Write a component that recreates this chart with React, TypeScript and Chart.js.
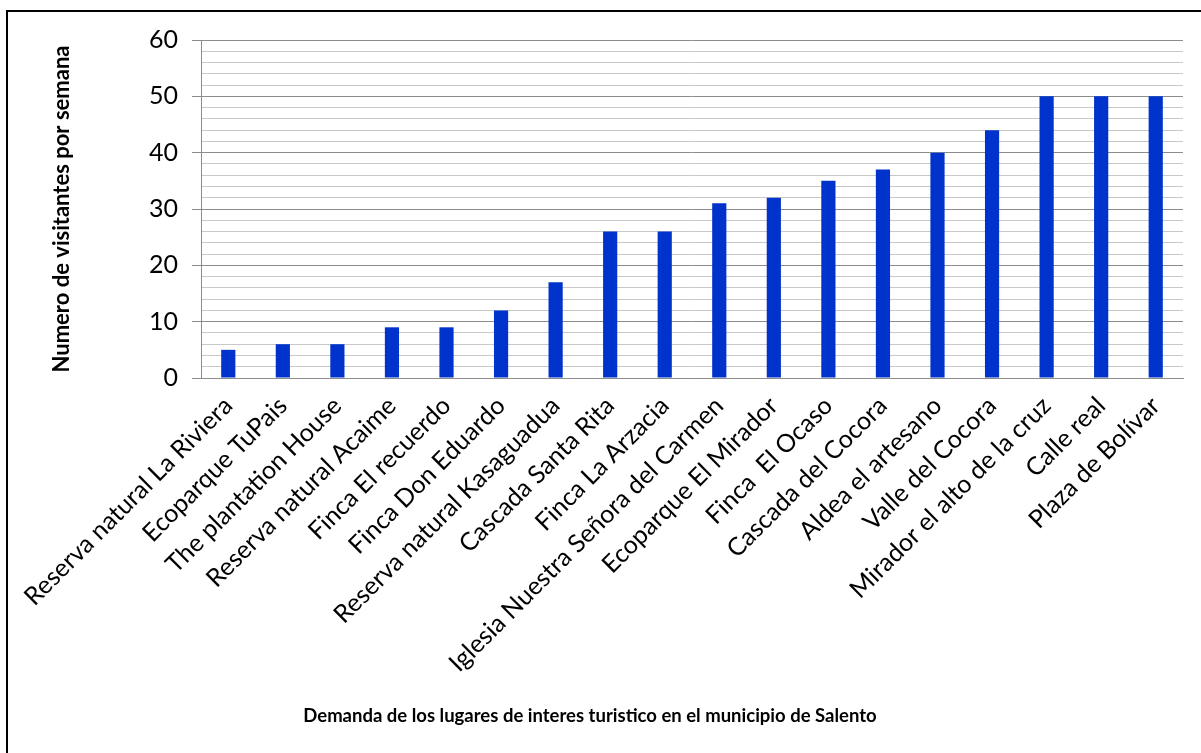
import React, { useEffect, useRef } from "react";
import { Chart, registerables } from "chart.js";

Chart.register(...registerables);

const categories: string[] = [
  "Reserva natural La Riviera",
  "Ecoparque TuPais",
  "The plantation House",
  "Reserva natural Acaime",
  "Finca El recuerdo",
  "Finca Don Eduardo",
  "Reserva natural Kasaguadua",
  "Cascada Santa Rita",
  "Finca La Arzacia",
  "Iglesia Nuestra Señora del Carmen",
  "Ecoparque El Mirador",
  "Finca  El Ocaso",
  "Cascada del Cocora",
  "Aldea el artesano",
  "Valle del Cocora",
  "Mirador el alto de la cruz",
  "Calle real",
  "Plaza de Bolívar",
];

const visitantes: number[] = [5, 6, 6, 9, 9, 12, 17, 26, 26, 31, 32, 35, 37, 40, 44, 50, 50, 50];

const yMin = 0;
const yMax = 60;
const yMajorStep = 10;
const yMinorStep = 2;

const xTitle = "Demanda de los lugares de interes turistico en el municipio de Salento";
const yTitle = "Numero de visitantes por semana";

const FONT = "Lato, 'Open Sans', sans-serif";

const framePlugin = {
  id: "frameAndTitles",
  beforeDraw(chart: any) {
    const ctx = chart.ctx;
    ctx.save();
    ctx.fillStyle = "#ffffff";
    ctx.fillRect(0, 0, chart.width, chart.height);
    ctx.strokeStyle = "#000000";
    ctx.lineWidth = 2;
    ctx.beginPath();
    ctx.moveTo(7, chart.height);
    ctx.lineTo(7, 11);
    ctx.lineTo(chart.width, 11);
    ctx.stroke();
    ctx.restore();
  },
  afterDraw(chart: any) {
    const ctx = chart.ctx;
    const area = chart.chartArea;
    ctx.save();
    ctx.fillStyle = "#000000";
    ctx.textAlign = "center";
    ctx.textBaseline = "middle";
    ctx.font = `bold 18.5px ${FONT}`;
    ctx.fillText(xTitle, 590, 716);
    ctx.font = `bold 22px ${FONT}`;
    ctx.translate(62, (area.top + area.bottom) / 2);
    ctx.rotate(-Math.PI / 2);
    ctx.fillText(yTitle, 0, 0);
    ctx.restore();
  },
};

export default function App() {
  const ref = useRef<HTMLCanvasElement | null>(null);

  useEffect(() => {
    document.body.style.margin = "0";
    if (!ref.current) return;
    const chart = new Chart(ref.current, {
      type: "bar",
      data: {
        labels: categories,
        datasets: [
          {
            data: visitantes,
            backgroundColor: "#0033cc",
            borderColor: "#3a5fd6",
            borderWidth: 0,
            categoryPercentage: 1,
            barPercentage: 0.26,
          },
        ],
      },
      options: {
        animation: false,
        responsive: false,
        devicePixelRatio: 1,
        layout: { padding: { left: 0, top: 40, right: 18, bottom: 0 } },
        plugins: {
          legend: { display: false },
          tooltip: { enabled: false },
        },
        scales: {
          x: {
            grid: { display: false },
            border: { display: true, color: "#8c8c8c", width: 1 },
            ticks: {
              autoSkip: false,
              maxRotation: 45,
              minRotation: 45,
              color: "#000000",
              padding: 5,
              font: { family: FONT, size: 25 },
            },
            afterFit(scale: any) {
              scale.height = 375;
            },
          },
          y: {
            min: yMin,
            max: yMax,
            border: { display: true, color: "#8c8c8c", width: 1 },
            grid: {
              color: (c: any) => (c.tick && c.tick.value % yMajorStep === 0 ? "#8c8c8c" : "#c8c8c8"),
              tickColor: (c: any) => (c.tick && c.tick.value % yMajorStep === 0 ? "#8c8c8c" : "rgba(0,0,0,0)"),
              tickLength: 9,
              lineWidth: 1,
            },
            ticks: {
              stepSize: yMinorStep,
              autoSkip: false,
              color: "#000000",
              padding: 14,
              font: { family: FONT, size: 25 },
              callback: (v: any) => (Number(v) % yMajorStep === 0 ? String(v) : ""),
            },
            afterFit(scale: any) {
              scale.width = 201;
            },
          },
        },
      },
      plugins: [framePlugin],
    } as any);
    return () => chart.destroy();
  }, []);

  return (
    <div style={{ position: "absolute", left: 0, top: 0, width: 1201, height: 753 }}>
      <canvas ref={ref} width={1201} height={753} style={{ width: 1201, height: 753, display: "block" }} />
    </div>
  );
}
